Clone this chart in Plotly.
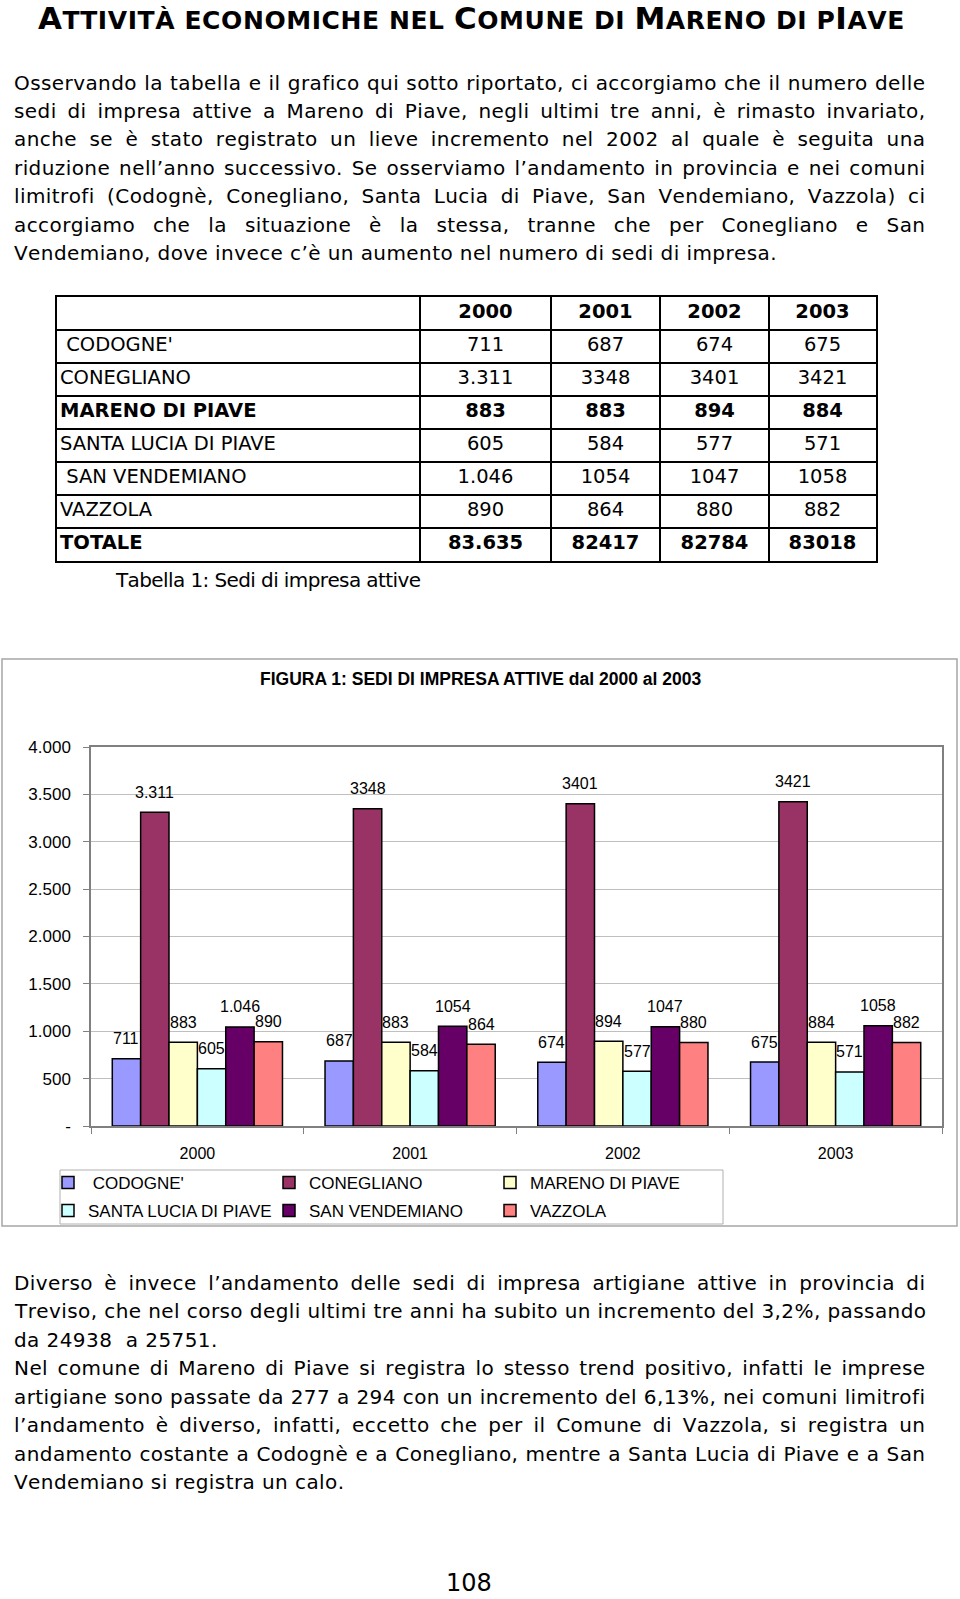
import glob
import os
import struct
import plotly.graph_objects as go

# ---------------- data ----------------
years = ["2000", "2001", "2002", "2003"]
comuni = ["CODOGNE'", "CONEGLIANO", "MARENO DI PIAVE", "SANTA LUCIA DI PIAVE",
          "SAN VENDEMIANO", "VAZZOLA"]
codogne = [711, 687, 674, 675]
conegliano = [3311, 3348, 3401, 3421]
mareno = [883, 883, 894, 884]
santa_lucia = [605, 584, 577, 571]
san_vendemiano = [1046, 1054, 1047, 1058]
vazzola = [890, 864, 880, 882]
totale = [83635, 82417, 82784, 83018]
bar_colors = ["#9999FF", "#993366", "#FFFFCC", "#CCFFFF", "#660066", "#FF8080"]
y_ticks = [0, 500, 1000, 1500, 2000, 2500, 3000, 3500, 4000]

page_title = "ATTIVITÀ ECONOMICHE NEL COMUNE DI MARENO DI PIAVE"
title_big_idx = [0, 24, 34, 45]  # A, C, M, P drawn as full capitals
para1 = [
    "Osservando la tabella e il grafico qui sotto riportato, ci accorgiamo che il numero delle",
    "sedi di impresa attive a Mareno di Piave, negli ultimi tre anni, è rimasto invariato,",
    "anche se è stato registrato un lieve incremento nel 2002 al quale è seguita una",
    "riduzione nell’anno successivo. Se osserviamo l’andamento in provincia e nei comuni",
    "limitrofi (Codognè, Conegliano, Santa Lucia di Piave, San Vendemiano, Vazzola) ci",
    "accorgiamo che la situazione è la stessa, tranne che per Conegliano e San",
    "Vendemiano, dove invece c’è un aumento nel numero di sedi di impresa.",
]
para2 = [
    "Diverso è invece l’andamento delle sedi di impresa artigiane attive in provincia di",
    "Treviso, che nel corso degli ultimi tre anni ha subito un incremento del 3,2%, passando",
    "da 24938\u00a0 a 25751.",
]
para3 = [
    "Nel comune di Mareno di Piave si registra lo stesso trend positivo, infatti le imprese",
    "artigiane sono passate da 277 a 294 con un incremento del 6,13%, nei comuni limitrofi",
    "l’andamento è diverso, infatti, eccetto che per il Comune di Vazzola, si registra un",
    "andamento costante a Codognè e a Conegliano, mentre a Santa Lucia di Piave e a San",
    "Vendemiano si registra un calo.",
]
table_caption = "Tabella 1: Sedi di impresa attive"
chart_title = "FIGURA 1: SEDI DI IMPRESA ATTIVE dal 2000 al 2003"
page_number = "108"

series = [codogne, conegliano, mareno, santa_lucia, san_vendemiano, vazzola]


def fmt(v, year_idx):
    # the 2000 column of the source uses a dotted thousands separator
    return f"{v:,}".replace(",", ".") if year_idx == 0 else str(v)


# ---------------- font metrics (for justified text) ----------------
def load_metrics(path):
    data = open(path, "rb").read()
    num = struct.unpack(">H", data[4:6])[0]
    tables = {}
    for i in range(num):
        tag, _, off, _ln = struct.unpack(">4sIII", data[12 + 16 * i: 28 + 16 * i])
        tables[tag] = off
    head = tables[b"head"]
    upem = struct.unpack(">H", data[head + 18: head + 20])[0]
    hhea = tables[b"hhea"]
    nhm = struct.unpack(">H", data[hhea + 34: hhea + 36])[0]
    hmtx = tables[b"hmtx"]
    adv = struct.unpack(">%dH" % (2 * nhm), data[hmtx: hmtx + 4 * nhm])[0::2]
    cm = tables[b"cmap"]
    nsub = struct.unpack(">H", data[cm + 2: cm + 4])[0]
    sub = None
    for i in range(nsub):
        pid, eid, off = struct.unpack(">HHI", data[cm + 4 + 8 * i: cm + 12 + 8 * i])
        if struct.unpack(">H", data[cm + off: cm + off + 2])[0] == 4 and (pid == 0 or (pid == 3 and eid == 1)):
            sub = cm + off
            break
    segx2 = struct.unpack(">H", data[sub + 6: sub + 8])[0]
    seg = segx2 // 2
    ends = struct.unpack(">%dH" % seg, data[sub + 14: sub + 14 + segx2])
    starts = struct.unpack(">%dH" % seg, data[sub + 16 + segx2: sub + 16 + 2 * segx2])
    deltas = struct.unpack(">%dh" % seg, data[sub + 16 + 2 * segx2: sub + 16 + 3 * segx2])
    rpos = sub + 16 + 3 * segx2
    roffs = struct.unpack(">%dH" % seg, data[rpos: rpos + segx2])
    cache = {}

    def glyph(c):
        for i in range(seg):
            if ends[i] >= c:
                if starts[i] > c:
                    return 0
                if roffs[i] == 0:
                    return (c + deltas[i]) & 0xFFFF
                p = rpos + 2 * i + roffs[i] + 2 * (c - starts[i])
                g = struct.unpack(">H", data[p: p + 2])[0]
                return (g + deltas[i]) & 0xFFFF if g else 0
        return 0

    def adv_em(ch):
        if ch not in cache:
            cache[ch] = adv[min(glyph(ord(ch)), nhm - 1)] / upem
        return cache[ch]

    return adv_em


def find_font(name):
    roots = ["/usr/share/fonts", "/usr/local/share/fonts",
             os.path.expanduser("~/.fonts"), os.path.expanduser("~/.local/share/fonts")]
    for r in roots:
        hits = glob.glob(os.path.join(r, "**", name), recursive=True)
        if hits:
            return hits[0]
    return None


TEXT_FAMILY = "DejaVu Sans"
reg_em = lambda ch: 0.56
bold_em = lambda ch: 0.68
try:
    _p = find_font("DejaVuSans.ttf")
    if _p:
        reg_em = load_metrics(_p)
    _p = find_font("DejaVuSans-Bold.ttf")
    if _p:
        bold_em = load_metrics(_p)
except Exception:
    pass
TEXT_FONT = TEXT_FAMILY + ", Verdana, sans-serif"
ARIAL = "Arial, Liberation Sans, sans-serif"


def text_width(s, size, em=None):
    em = em or reg_em
    return sum(em(c) for c in s) * size


# ---------------- page geometry ----------------
PW, PH = 960, 1599
px = lambda x: x / PW
py = lambda y: 1 - y / PH

TEXT_LEFT, TEXT_RIGHT = 12, 923
TARGET = TEXT_RIGHT - TEXT_LEFT

justified = para1[:-1] + para2[:-1] + para3[:-1]
body_size = 20.0
while True:
    ls_body = min((TARGET - text_width(l, body_size)) / (len(l) - 1) for l in justified)
    if ls_body >= -0.8 or body_size <= 14:
        break
    body_size -= 0.5
ls_body = min(ls_body, 0.6)

BASE_STYLE = "font-kerning:none;font-variant-ligatures:none;"


def body_line(line, justify):
    ws = 0.0
    if justify:
        k = line.count(" ")
        nat = text_width(line, body_size) + ls_body * (len(line) - 1)
        ws = (TARGET - nat) / max(k, 1)
    style = BASE_STYLE + f"letter-spacing:{ls_body:.3f}px;word-spacing:{ws:.3f}px"
    return f"<span style='{style}'>{line}</span>"


fig = go.Figure()

# ---------------- bars ----------------
BARGAP = 0.2
for j, (name, vals, col) in enumerate(zip(comuni, series, bar_colors)):
    fig.add_trace(go.Bar(
        x=years, y=vals,
        name=("\u00a0" + name) if j == 0 else name,
        marker=dict(color=col, line=dict(color="black", width=1.5)),
        legend="legend" if j < 3 else "legend2",
        hoverinfo="skip",
    ))

# data labels above every bar
n_series = len(series)
for j, vals in enumerate(series):
    for i, v in enumerate(vals):
        fig.add_annotation(
            x=i + (j - (n_series - 1) / 2) * (1 - BARGAP) / n_series, y=v,
            xref="x", yref="y", text=fmt(v, i), showarrow=False,
            yanchor="middle", yshift=20,
            font=dict(family=ARIAL, size=16, color="black"),
        )

# ---------------- table (own axes: x in px from table left, y in rows) ----------------
TABLE_LEFT, TABLE_TOP, ROW_H = 57, 297, 33
table_cols = [0, 363, 494, 603, 712, 819]
NAME_PAD = 3
bold_rows = {"MARENO DI PIAVE", "TOTALE"}
indent_rows = {"CODOGNE'", "SAN VENDEMIANO"}
row_names = comuni + ["TOTALE"]
row_vals = series + [totale]
n_rows = len(row_names) + 1

name_x, name_y, name_t = [], [], []
for r, nm in enumerate(row_names):
    t = ("\u00a0" + nm) if nm in indent_rows else nm
    name_x.append(table_cols[0] + NAME_PAD)
    name_y.append(r + 1.5)
    name_t.append(f"<b>{t}</b>" if nm in bold_rows else t)

num_x, num_y, num_t = [], [], []
for i, yr in enumerate(years):
    cx = (table_cols[i + 1] + table_cols[i + 2]) / 2
    num_x.append(cx)
    num_y.append(0.5)
    num_t.append(f"<b>{yr}</b>")
    for r, (nm, vals) in enumerate(zip(row_names, row_vals)):
        t = fmt(vals[i], i)
        num_x.append(cx)
        num_y.append(r + 1.5)
        num_t.append(f"<b>{t}</b>" if nm in bold_rows else t)

TABLE_FONT = dict(family=TEXT_FONT, size=19.5, color="black")
fig.add_trace(go.Scatter(x=name_x, y=name_y, text=name_t, mode="text", textposition="middle right",
                         textfont=TABLE_FONT, xaxis="x2", yaxis="y2", showlegend=False,
                         hoverinfo="skip", cliponaxis=False))
fig.add_trace(go.Scatter(x=num_x, y=num_y, text=num_t, mode="text", textposition="middle center",
                         textfont=TABLE_FONT, xaxis="x2", yaxis="y2", showlegend=False,
                         hoverinfo="skip", cliponaxis=False))

# ---------------- page texts ----------------
# title in small capitals
B_SIZE, S_SIZE = 31, 25
t_nat = sum(bold_em(c) * (B_SIZE if k in title_big_idx else S_SIZE) for k, c in enumerate(page_title))
t_ls = (866 - t_nat) / (len(page_title) - 1)
parts = []
for k, c in enumerate(page_title):
    size = B_SIZE if k in title_big_idx else S_SIZE
    parts.append(f"<span style='{BASE_STYLE}letter-spacing:{t_ls:.3f}px;font-size:{size}px'>{c}</span>")
fig.add_annotation(x=px(36), y=py(17.5), xref="paper", yref="paper", showarrow=False,
                   xanchor="left", yanchor="middle", align="left", text="".join(parts),
                   font=dict(family=TEXT_FONT, size=S_SIZE, color="black", weight="bold"))

LINE_STEP = 28.45
for paragraph, y0 in ((para1, 82.5), (para2, 1283.0), (para3, 1283.0 + 3 * LINE_STEP)):
    for k, line in enumerate(paragraph):
        fig.add_annotation(
            x=px(TEXT_LEFT), y=py(y0 + k * LINE_STEP), xref="paper", yref="paper",
            showarrow=False, xanchor="left", yanchor="middle", align="left",
            text=body_line(line, k < len(paragraph) - 1),
            font=dict(family=TEXT_FONT, size=body_size, color="black"),
        )

cap_ls = (305 - text_width(table_caption, 20)) / (len(table_caption) - 1)
fig.add_annotation(x=px(113), y=py(580), xref="paper", yref="paper", showarrow=False,
                   xanchor="left", yanchor="middle", align="left",
                   text=f"<span style='{BASE_STYLE}letter-spacing:{cap_ls:.3f}px'>{table_caption}</span>",
                   font=dict(family=TEXT_FONT, size=20, color="black"))

fig.add_annotation(x=px(480), y=py(679), xref="paper", yref="paper", showarrow=False,
                   xanchor="center", yanchor="middle", text=f"<b>{chart_title}</b>",
                   font=dict(family=ARIAL, size=17.5, color="black"))

fig.add_annotation(x=px(469), y=py(1583), xref="paper", yref="paper", showarrow=False,
                   xanchor="center", yanchor="middle", text=page_number,
                   font=dict(family=TEXT_FONT, size=24, color="black"))

# chart frame and legend frame
fig.add_shape(type="rect", xref="paper", yref="paper", x0=px(2), x1=px(957), y0=py(1226), y1=py(659),
              line=dict(color="#A6A6A6", width=1.5), fillcolor="rgba(0,0,0,0)", layer="below")
fig.add_shape(type="rect", xref="paper", yref="paper", x0=px(60), x1=px(723), y0=py(1224), y1=py(1170),
              line=dict(color="#B0B0B0", width=1), fillcolor="rgba(0,0,0,0)", layer="below")

legend_common = dict(orientation="h", xanchor="left", yanchor="middle", entrywidth=176,
                     entrywidthmode="pixels", font=dict(family=ARIAL, size=17, color="black"),
                     bgcolor="rgba(0,0,0,0)", borderwidth=0, traceorder="normal")

fig.update_layout(
    width=PW, height=PH, margin=dict(l=0, r=0, t=0, b=0, autoexpand=False),
    paper_bgcolor="white", plot_bgcolor="white",
    barmode="group", bargap=BARGAP, bargroupgap=0,
    xaxis=dict(domain=[px(91), px(942)], type="category", showline=True, mirror=True,
               linecolor="#808080", linewidth=1.5, ticks="outside", tickson="boundaries",
               ticklen=6, tickcolor="#808080", showgrid=False, ticklabelstandoff=12,
               tickfont=dict(family=ARIAL, size=16, color="black"), anchor="y", automargin=False),
    yaxis=dict(domain=[py(1126), py(747)], range=[0, 4000], tickvals=y_ticks,
               ticktext=["-"] + [f"{v:,}".replace(",", ".") for v in y_ticks[1:]],
               showgrid=True, gridcolor="#BFBFBF", gridwidth=1, showline=True, mirror=True,
               linecolor="#808080", linewidth=1.5, ticks="outside", ticklen=6,
               tickcolor="#808080", zeroline=False, ticklabelstandoff=9,
               tickfont=dict(family=ARIAL, size=17, color="black"), anchor="x", automargin=False),
    xaxis2=dict(domain=[px(TABLE_LEFT), px(TABLE_LEFT + table_cols[-1])], range=[0, table_cols[-1]],
                tickvals=table_cols, showgrid=True, gridcolor="black", gridwidth=2,
                showline=True, mirror=True, linecolor="black", linewidth=2,
                showticklabels=False, ticks="", zeroline=False, anchor="y2", fixedrange=True,
                automargin=False),
    yaxis2=dict(domain=[py(TABLE_TOP + n_rows * ROW_H), py(TABLE_TOP)], range=[n_rows, 0],
                tickvals=list(range(n_rows + 1)), showgrid=True, gridcolor="black", gridwidth=2,
                showline=True, mirror=True, linecolor="black", linewidth=2,
                showticklabels=False, ticks="", zeroline=False, anchor="x2", fixedrange=True,
                automargin=False),
    legend=dict(x=px(48), y=py(1183), **legend_common),
    legend2=dict(x=px(48), y=py(1211), **legend_common),
)

fig.write_html(
    "out.html",
    config={"displayModeBar": False},
    post_script="document.body.style.margin='0';document.body.style.padding='0';"
                "document.documentElement.style.overflow='hidden';",
)
